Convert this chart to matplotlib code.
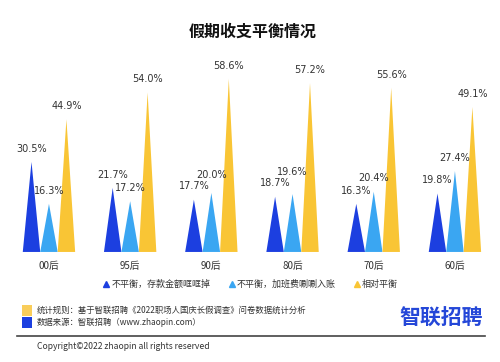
import numpy as np
import matplotlib
matplotlib.use("Agg")
import matplotlib.pyplot as plt
from matplotlib.lines import Line2D
from matplotlib.patches import Rectangle

plt.rcParams['font.family'] = ['Noto Sans CJK SC', 'DejaVu Sans']

groups = ["00后", "95后", "90后", "80后", "70后", "60后"]
deposit = [30.5, 21.7, 17.7, 18.7, 16.3, 19.8]
overtime = [16.3, 17.2, 20.0, 19.6, 20.4, 27.4]
balanced = [44.9, 54.0, 58.6, 57.2, 55.6, 49.1]
series_names = ["不平衡，存款金额哐哐掉", "不平衡，加班费唰唰入账", "相对平衡"]
colors = ["#1c3fe0", "#3aa6f2", "#f9c535"]

fig = plt.figure(figsize=(5, 3.62), dpi=100)
fig.patch.set_facecolor("white")

ax = fig.add_axes([0, 0.304, 1, 0.53])
ax.set_xlim(-0.603, 5.555)
ax.set_ylim(0, 65)
ax.axis("off")

w = 0.215
x = np.arange(len(groups))
series = [deposit, overtime, balanced]
for k, vals in enumerate(series):
    off = (k - 1) * w
    for i, v in enumerate(vals):
        c = x[i] + off
        ax.fill([c - w / 2, c, c + w / 2], [0, v, 0], color=colors[k], lw=0)
        # lift a label when it would run into its left neighbour's label
        dy = 6
        if k > 0:
            prev = series[k - 1][i]
            if abs(v - prev) < 3:
                dy += 8 - 2 * abs(v - prev)
        ax.annotate(f"{v:.1f}%", (c, v), xytext=(0, dy), textcoords="offset points",
                    ha="center", va="bottom", fontsize=7, color="#333333",
                    family=['DejaVu Sans'])

for i, g in enumerate(groups):
    ax.annotate(g, (x[i], 0), xytext=(0, -10), textcoords="offset points",
                ha="center", va="center", fontsize=7, color="#333333",
                annotation_clip=False)

fig.text(0.505, 0.913, "假期收支平衡情况", ha="center", va="center",
         fontsize=11.5, fontweight="bold", color="#111111")

handles = [Line2D([], [], marker="^", ls="none", color=c, markersize=4) for c in colors]
fig.legend(handles, series_names, loc="center", bbox_to_anchor=(0.5, 0.215),
           ncol=3, frameon=False, fontsize=6.5, handletextpad=0.1,
           columnspacing=1.8, handlelength=1.0, labelcolor="#333333")

# footer
fig.patches.append(Rectangle((0.044, 0.127), 0.02, 0.03, transform=fig.transFigure,
                             color="#f9cd5a", lw=0))
fig.patches.append(Rectangle((0.044, 0.094), 0.02, 0.03, transform=fig.transFigure,
                             color="#1c3fe0", lw=0))
fig.text(0.074, 0.142, "统计规则：基于智联招聘《2022职场人国庆长假调查》问卷数据统计分析",
         fontsize=6.0, va="center", color="#333333")
fig.text(0.074, 0.109, "数据来源：智联招聘（www.zhaopin.com）",
         fontsize=6.0, va="center", color="#333333")
fig.text(0.883, 0.122, "智联招聘", ha="center", va="center", fontsize=15,
         fontweight="bold", color="#2447d8")
fig.add_artist(Line2D([0.034, 0.97], [0.072, 0.072], transform=fig.transFigure,
                      color="#444444", lw=1.2))
fig.text(0.074, 0.042, "Copyright©2022 zhaopin all rights reserved",
         fontsize=6.2, va="center", color="#333333")

fig.savefig("out.png", dpi=100)
